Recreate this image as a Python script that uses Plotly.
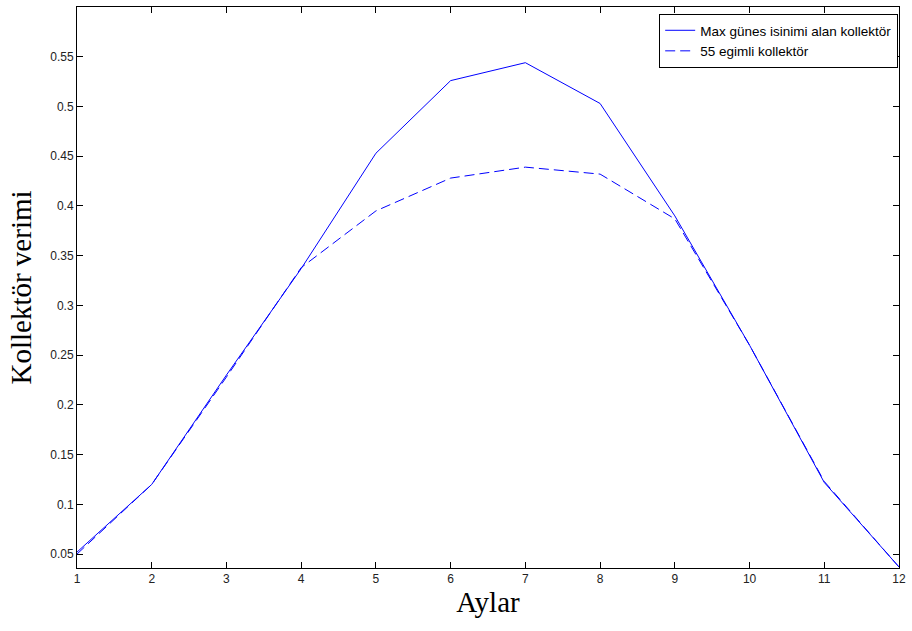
import plotly.graph_objects as go

months = [1, 2, 3, 4, 5, 6, 7, 8, 9, 10, 11, 12]
max_radiation = [0.052, 0.120, 0.230, 0.337, 0.453, 0.526, 0.544, 0.503, 0.390, 0.260, 0.122, 0.037]
tilt55 = [0.050, 0.120, 0.228, 0.338, 0.395, 0.428, 0.439, 0.432, 0.387, 0.260, 0.123, 0.037]
y_ticks = [0.05, 0.1, 0.15, 0.2, 0.25, 0.3, 0.35, 0.4, 0.45, 0.5, 0.55]
y_labels = ["0.05", "0.1", "0.15", "0.2", "0.25", "0.3", "0.35", "0.4", "0.45", "0.5", "0.55"]

fig = go.Figure()
fig.add_trace(go.Scatter(x=months, y=max_radiation, mode="lines",
                         name="Max günes isinimi alan kollektör",
                         line=dict(color="#0000FF", width=1)))
fig.add_trace(go.Scatter(x=months, y=tilt55, mode="lines",
                         name="55 egimli kollektör",
                         line=dict(color="#0000FF", width=1, dash="10px,5px")))

axis_common = dict(showline=True, linecolor="#000000", linewidth=1, mirror="allticks",
                   ticks="inside", ticklen=6, tickcolor="#000000", showgrid=False,
                   zeroline=False,
                   tickfont=dict(family="Liberation Sans, Arial", size=12, color="#222222"))

fig.update_xaxes(range=[1, 12], tickvals=months, ticktext=[str(m) for m in months],
                 title=dict(text="Aylar", font=dict(family="Liberation Serif, Times New Roman", size=29, color="#000000"), standoff=6),
                 **axis_common)
fig.update_yaxes(range=[0.036, 0.6], tickvals=y_ticks, ticktext=y_labels,
                 title=dict(text="Kollektör verimi", font=dict(family="Liberation Serif, Times New Roman", size=29, color="#000000"), standoff=10),
                 **axis_common)

fig.update_layout(
    width=912, height=631,
    margin=dict(l=77, r=8, t=6, b=63),
    paper_bgcolor="white", plot_bgcolor="white",
    showlegend=True,
    legend=dict(x=0.999, y=0.9875, xanchor="right", yanchor="top",
                bgcolor="white", bordercolor="#000000", borderwidth=1,
                font=dict(family="Liberation Sans, Arial", size=13.5, color="#000000"),
                itemwidth=30, tracegroupgap=0),
)

fig.write_html("out.html")
